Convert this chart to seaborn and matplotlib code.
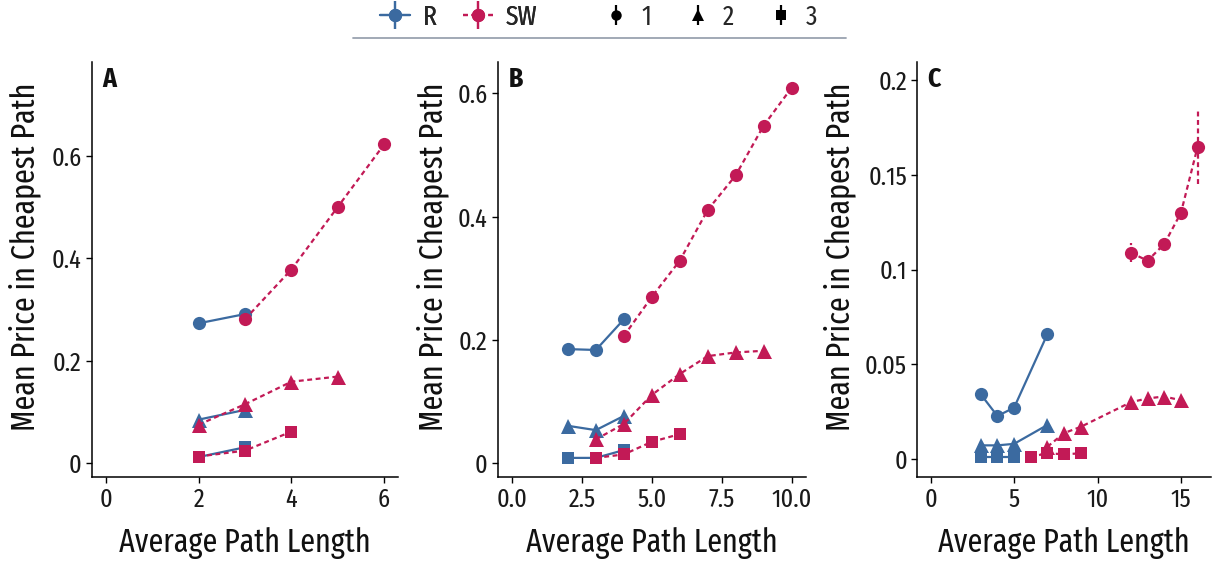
import matplotlib
matplotlib.use("Agg")
import matplotlib.pyplot as plt
import seaborn as sns
import pandas as pd
import numpy as np
from matplotlib.lines import Line2D
from matplotlib.legend_handler import HandlerTuple
from matplotlib.ticker import FuncFormatter
from matplotlib import font_manager as fm

# ---------------- data ----------------
# Panel A
A_R1_x = [2, 3];             A_R1_y = [0.273, 0.291]
A_R2_x = [2, 3];             A_R2_y = [0.085, 0.104]
A_R3_x = [2, 3];             A_R3_y = [0.012, 0.031]
A_SW1_x = [3, 4, 5, 6];      A_SW1_y = [0.281, 0.378, 0.500, 0.622]
A_SW2_x = [2, 3, 4, 5];      A_SW2_y = [0.075, 0.115, 0.159, 0.169]
A_SW3_x = [2, 3, 4];         A_SW3_y = [0.013, 0.0245, 0.0615]
# Panel B
B_R1_x = [2, 3, 4];          B_R1_y = [0.1854, 0.184, 0.2335]
B_R2_x = [2, 3, 4];          B_R2_y = [0.061, 0.054, 0.077]
B_R3_x = [2, 3, 4];          B_R3_y = [0.009, 0.009, 0.0216]
B_SW1_x = [4, 5, 6, 7, 8, 9, 10]; B_SW1_y = [0.2065, 0.270, 0.3287, 0.411, 0.467, 0.5476, 0.609]
B_SW1_e = [0.004, 0.003, 0.003, 0.003, 0.004, 0.004, 0.008]
B_SW2_x = [3, 4, 5, 6, 7, 8, 9];  B_SW2_y = [0.039, 0.064, 0.111, 0.145, 0.174, 0.180, 0.1827]
B_SW3_x = [3, 4, 5, 6];      B_SW3_y = [0.009, 0.0146, 0.035, 0.0475]
# Panel C
C_R1_x = [3, 4, 5, 7];       C_R1_y = [0.0342, 0.0227, 0.0271, 0.066]
C_R2_x = [3, 4, 5, 7];       C_R2_y = [0.0072, 0.0072, 0.008, 0.018]
C_R3_x = [3, 4, 5];          C_R3_y = [0.0012, 0.0012, 0.0012]
C_SW1_x = [12, 13, 14, 15, 16]; C_SW1_y = [0.1089, 0.1047, 0.1135, 0.130, 0.1649]
C_SW1_e = [0.005, 0.002, 0.003, 0.003, 0.0195]
C_SW2_x = [7, 8, 9, 12, 13, 14, 15]; C_SW2_y = [0.0065, 0.0137, 0.017, 0.030, 0.032, 0.033, 0.031]
C_SW3_x = [6, 7, 8, 9];      C_SW3_y = [0.0012, 0.003, 0.0025, 0.003]

panel_labels = ["A", "B", "C"]
networks = ["R", "SW"]
groups = ["1", "2", "3"]
x_label = "Average Path Length"
y_label = "Mean Price in Cheapest Path"

rows = []
def add(panel, net, grp, xs, ys, es=None):
    if es is None:
        es = [0.0] * len(xs)
    for x, y, e in zip(xs, ys, es):
        rows.append(dict(panel=panel, net=net, grp=grp, x=x, y=y, e=e))

add("A", "R", "1", A_R1_x, A_R1_y); add("A", "R", "2", A_R2_x, A_R2_y); add("A", "R", "3", A_R3_x, A_R3_y)
add("A", "SW", "1", A_SW1_x, A_SW1_y); add("A", "SW", "2", A_SW2_x, A_SW2_y); add("A", "SW", "3", A_SW3_x, A_SW3_y)
add("B", "R", "1", B_R1_x, B_R1_y); add("B", "R", "2", B_R2_x, B_R2_y); add("B", "R", "3", B_R3_x, B_R3_y)
add("B", "SW", "1", B_SW1_x, B_SW1_y, B_SW1_e); add("B", "SW", "2", B_SW2_x, B_SW2_y); add("B", "SW", "3", B_SW3_x, B_SW3_y)
add("C", "R", "1", C_R1_x, C_R1_y); add("C", "R", "2", C_R2_x, C_R2_y); add("C", "R", "3", C_R3_x, C_R3_y)
add("C", "SW", "1", C_SW1_x, C_SW1_y, C_SW1_e); add("C", "SW", "2", C_SW2_x, C_SW2_y); add("C", "SW", "3", C_SW3_x, C_SW3_y)
df = pd.DataFrame(rows)

# ---------------- style ----------------
sns.set_theme(style="white")
avail = {f.name for f in fm.fontManager.ttflist}
cands = ["Fira Sans Extra Condensed", "Fira Sans Condensed", "PT Sans Narrow",
         "Roboto Condensed", "Liberation Sans Narrow"]
chosen = [c for c in cands if c in avail][:1]
FONT = chosen + ["Liberation Sans", "DejaVu Sans"]
plt.rcParams["font.family"] = FONT
TW = 400

colors = {"R": "#3b6aa0", "SW": "#c21a56"}
DASH = (2.2, 1.6)
markers = {"1": "o", "2": "^", "3": "s"}
msizes = {"1": 9.5, "2": 10.8, "3": 9.0}

W, H = 1221, 566
fig = plt.figure(figsize=(W / 100, H / 100), dpi=100)
boxes = [(92, 398), (498, 805.5), (917.3, 1211)]
top_px, bot_px = 62, 477
xlims = [(-0.3, 6.3), (-0.5, 10.5), (-0.8, 16.8)]
ylims = [(-0.027, 0.783), (-0.022, 0.651), (-0.0095, 0.2096)]
xticks = [[0, 2, 4, 6], [0, 2.5, 5, 7.5, 10], [0, 5, 10, 15]]
yticks = [[0, 0.2, 0.4, 0.6], [0, 0.2, 0.4, 0.6], [0, 0.05, 0.1, 0.15, 0.2]]
xfmt = [lambda v, p: f"{v:g}", lambda v, p: f"{v:.1f}", lambda v, p: f"{v:g}"]
ylab_x_px = [25, 433, 840]
ylab_y_px = 257
xlab_y_px = 543

for i, pl in enumerate(panel_labels):
    l, r = boxes[i]
    ax = fig.add_axes([l / W, 1 - bot_px / H, (r - l) / W, (bot_px - top_px) / H])
    sub = df[df.panel == pl]
    for net in networks:
        for g in groups:
            d = sub[(sub.net == net) & (sub.grp == g)]
            if d.empty:
                continue
            sns.lineplot(data=d, x="x", y="y", ax=ax, color=colors[net],
                         marker=markers[g], markersize=msizes[g],
                         markeredgewidth=0, linewidth=1.6, errorbar=None,
                         legend=False, dashes=False)
            ln = ax.lines[-1]
            if net == "SW":
                ln.set_dashes(DASH)
            if (d.e > 0).any():
                eb = ax.errorbar(d.x, d.y, yerr=d.e, fmt="none",
                                 ecolor=colors[net], elinewidth=1.6, capsize=0)
                if net == "SW":
                    for c in eb[2]:
                        c.set_linestyle((0, DASH))
    ax.set_xlim(*xlims[i]); ax.set_ylim(*ylims[i])
    ax.set_xticks(xticks[i]); ax.set_yticks(yticks[i])
    ax.xaxis.set_major_formatter(FuncFormatter(xfmt[i]))
    ax.yaxis.set_major_formatter(FuncFormatter(lambda v, p: f"{v:g}"))
    for s in ["top", "right"]:
        ax.spines[s].set_visible(False)
    for s in ["left", "bottom"]:
        ax.spines[s].set_color("black"); ax.spines[s].set_linewidth(1.1)
    ax.tick_params(axis="both", which="major", length=4.5, width=1.0,
                   color="black", labelsize=19, labelcolor="#1a1a1a",
                   left=True, bottom=True, pad=3)
    ax.set_xlabel(x_label, fontsize=23.5, color="#111111", fontweight=TW)
    ax.set_ylabel(y_label, fontsize=23.5, color="#111111", fontweight=TW)
    wpx = r - l; hpx = bot_px - top_px
    ax.yaxis.set_label_coords((ylab_x_px[i] - l) / wpx, (bot_px - ylab_y_px) / hpx)
    ax.yaxis.label.set_va("center")
    ax.xaxis.set_label_coords(0.5, (bot_px - xlab_y_px) / hpx)
    ax.xaxis.label.set_va("center")
    ax.text(0.035, 0.99, pl, transform=ax.transAxes, fontsize=20,
            fontweight="bold", va="top", ha="left", color="#111111")

# ---------------- legend ----------------
def vbar(c, ms):
    return Line2D([], [], color=c, marker="|", markersize=ms, mew=1.6, ls="none")

h_R = (Line2D([], [], color=colors["R"], lw=1.6), vbar(colors["R"], 20),
       Line2D([], [], color=colors["R"], marker="o", markersize=9.5, mew=0, ls="none"))
h_SW = (Line2D([], [], color=colors["SW"], lw=1.6, dashes=DASH), vbar(colors["SW"], 20),
        Line2D([], [], color=colors["SW"], marker="o", markersize=9.5, mew=0, ls="none"))
FS = 20
leg1 = fig.legend([h_R, h_SW], networks,
                  handler_map={tuple: HandlerTuple(ndivide=1, pad=0)},
                  loc="center left", bbox_to_anchor=(380 / W, 1 - 17 / H), ncol=2,
                  frameon=False, prop={"size": FS, "weight": TW},
                  handlelength=30 / (FS * 1.389),
                  handletextpad=13 / (FS * 1.389), columnspacing=26 / (FS * 1.389),
                  borderpad=0, borderaxespad=0)
shape_h = []
for g in groups:
    shape_h.append((vbar("black", 14),
                    Line2D([], [], color="black", marker=markers[g], markersize=msizes[g] - 2, mew=0, ls="none")))
leg2 = fig.legend(shape_h, groups,
                  handler_map={tuple: HandlerTuple(ndivide=1, pad=0)},
                  loc="center left", bbox_to_anchor=(603 / W, 1 - 17 / H), ncol=3,
                  frameon=False, prop={"size": FS, "weight": TW},
                  handlelength=26 / (FS * 1.389),
                  handletextpad=12 / (FS * 1.389), columnspacing=34 / (FS * 1.389),
                  borderpad=0, borderaxespad=0)
fig.add_artist(leg1)
fig.add_artist(Line2D([353 / W, 846 / W], [1 - 37.5 / H, 1 - 37.5 / H],
                      transform=fig.transFigure, color="#9aa3b0", lw=1.3))

fig.savefig("out.png", dpi=100)
